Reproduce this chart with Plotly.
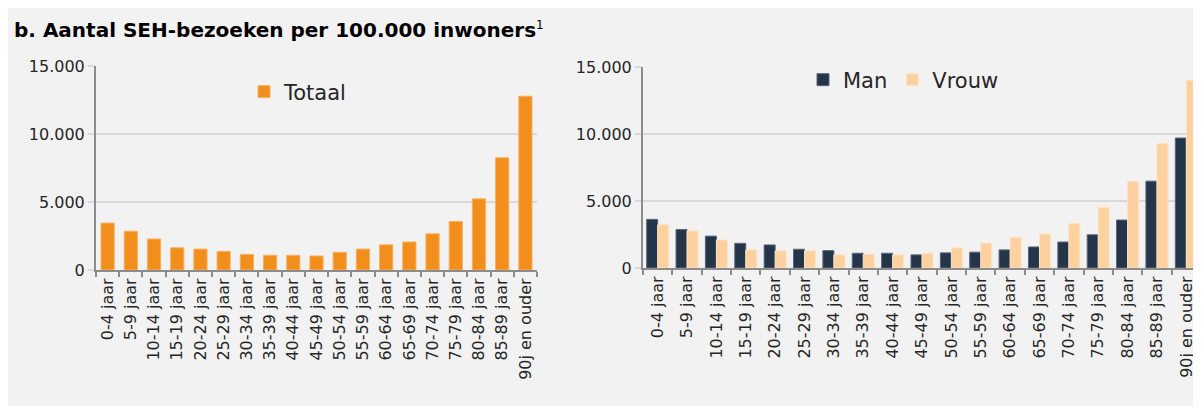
import plotly.graph_objects as go

# data
age_groups = ["0-4 jaar", "5-9 jaar", "10-14 jaar", "15-19 jaar", "20-24 jaar",
              "25-29 jaar", "30-34 jaar", "35-39 jaar", "40-44 jaar", "45-49 jaar",
              "50-54 jaar", "55-59 jaar", "60-64 jaar", "65-69 jaar", "70-74 jaar",
              "75-79 jaar", "80-84 jaar", "85-89 jaar", "90j en ouder"]
totaal = [3450, 2850, 2280, 1630, 1540, 1370, 1150, 1080, 1080, 1030,
          1300, 1540, 1850, 2060, 2660, 3570, 5230, 8250, 12780]
man = [3630, 2870, 2380, 1840, 1720, 1400, 1300, 1100, 1100, 980,
       1130, 1180, 1350, 1570, 1940, 2480, 3580, 6480, 9700]
vrouw = [3220, 2770, 2090, 1350, 1280, 1280, 980, 1030, 980, 1100,
         1500, 1860, 2280, 2530, 3310, 4520, 6480, 9280, 14020]
y_ticks = [0, 5000, 10000, 15000]

# page body has an 8px margin, so the figure is 8px smaller than the window
OFF = 8
W, H = 1201 - OFF, 414 - OFF
FONT = "DejaVu Sans"
ORANGE = "#F28E1C"
NAVY = "#253549"
PEACH = "#FDD19F"
GRID = "#d9d9d9"
AXIS = "#8c8c8c"
TXT = "#262626"


def px_x(x):
    # reference pixel -> paper fraction
    return min(max((x - OFF) / W, 0), 1)


def px_y(y):
    return min(max((H - (y - OFF)) / H, 0), 1)


fig = go.Figure()

fig.add_trace(go.Bar(x=age_groups, y=totaal, name="Totaal", marker_color=ORANGE,
                     marker_line=dict(color="#f7b062", width=1), width=0.57,
                     showlegend=True, xaxis="x", yaxis="y", legend="legend"))
fig.add_trace(go.Bar(x=age_groups, y=man, name="Man", marker_color=NAVY,
                     marker_line=dict(color="#5a6677", width=1), showlegend=True,
                     xaxis="x2", yaxis="y2", legend="legend2"))
fig.add_trace(go.Bar(x=age_groups, y=vrouw, name="Vrouw", marker_color=PEACH,
                     marker_line=dict(color="#fde3c4", width=1), showlegend=True,
                     xaxis="x2", yaxis="y2", legend="legend2"))

xcommon = dict(type="category", tickangle=-90, showline=True, linecolor=AXIS, linewidth=2,
               ticks="outside", tickson="boundaries", ticklen=5, tickcolor=AXIS, tickwidth=2,
               showgrid=False, automargin=False,
               tickfont=dict(family=FONT, size=16, color=TXT))
ycommon = dict(range=[0, 15000], tickvals=y_ticks, tickformat=",", showline=True,
               linecolor=AXIS, linewidth=2, showgrid=True, gridcolor=GRID, gridwidth=2,
               ticks="outside", ticklen=6, tickcolor=GRID, tickwidth=2, zeroline=False,
               automargin=False, tickfont=dict(family=FONT, size=16, color=TXT))

fig.update_layout(
    width=W, height=H,
    margin=dict(l=0, r=0, t=0, b=0, autoexpand=False),
    paper_bgcolor="white", plot_bgcolor="rgba(0,0,0,0)",
    separators=",.",
    showlegend=True,
    barmode="group",
    bargap=0.25, bargroupgap=0,
    xaxis=dict(domain=[px_x(96), px_x(537)], anchor="y", **xcommon),
    yaxis=dict(domain=[px_y(270), px_y(66)], anchor="x", **ycommon),
    xaxis2=dict(domain=[px_x(643), 1], anchor="y2", **xcommon),
    yaxis2=dict(domain=[px_y(268), px_y(67)], anchor="x2", **ycommon),
    legend=dict(x=px_x(244), y=px_y(92), xanchor="left", yanchor="middle",
                bgcolor="rgba(0,0,0,0)", font=dict(family=FONT, size=21, color=TXT)),
    legend2=dict(x=px_x(803), y=px_y(80), xanchor="left", yanchor="middle",
                 orientation="h", bgcolor="rgba(0,0,0,0)",
                 font=dict(family=FONT, size=21, color=TXT)),
    shapes=[dict(type="rect", xref="paper", yref="paper", x0=0, x1=1,
                 y0=px_y(406), y1=1, fillcolor="#f2f2f2", line_width=0, layer="below")],
)

fig.add_annotation(x=px_x(12), y=px_y(30), xref="paper", yref="paper",
                   xanchor="left", yanchor="middle", showarrow=False,
                   text="<b>b. Aantal SEH-bezoeken per 100.000 inwoners</b>"
                        "<sup><span style='font-size:12px'>1</span></sup>",
                   font=dict(family=FONT, size=20, color="#000000"))

fig.write_html("out.html")
